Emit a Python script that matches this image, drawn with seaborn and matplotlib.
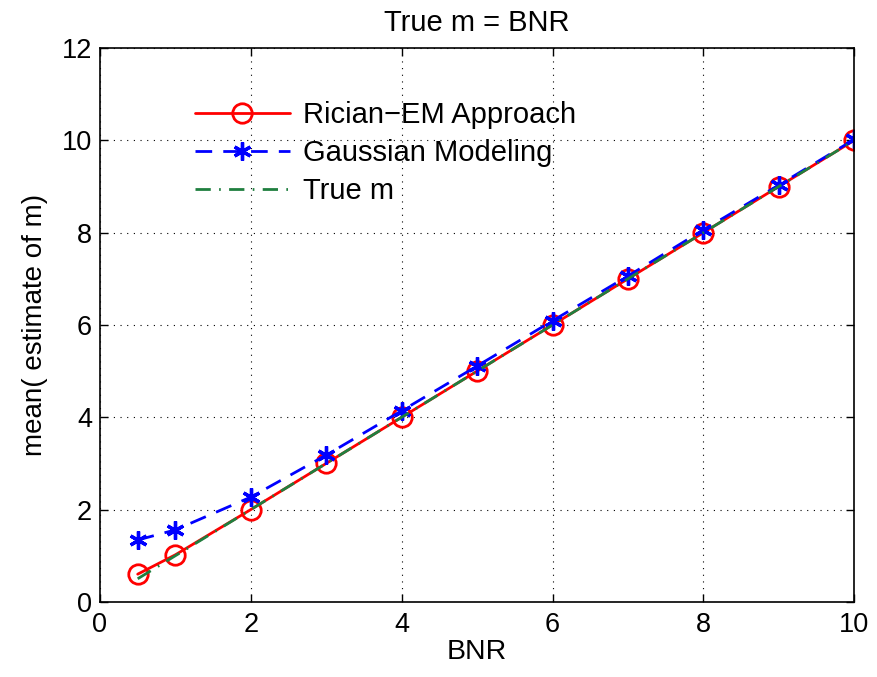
import numpy as np
import pandas as pd
import matplotlib
matplotlib.use("Agg")
import matplotlib.pyplot as plt
import seaborn as sns

bnr = [0.5, 1, 2, 3, 4, 5, 6, 7, 8, 9, 10]
rician = [0.6, 1.02, 2.0, 3.0, 4.0, 5.0, 6.0, 7.0, 8.0, 9.0, 10.0]
gaussian = [1.34, 1.56, 2.27, 3.18, 4.14, 5.11, 6.09, 7.06, 8.06, 9.03, 10.02]
true_m = [0.5, 1, 2, 3, 4, 5, 6, 7, 8, 9, 10]

sns.set_theme(style="white")
plt.rcParams['font.family'] = ['Liberation Sans', 'DejaVu Sans']
plt.rcParams['text.color'] = 'black'
plt.rcParams['axes.labelcolor'] = 'black'

fig = plt.figure(figsize=(8.77, 6.77), dpi=100)
ax = fig.add_axes([0.114, 0.111, 0.860, 0.818])

df = pd.DataFrame({"BNR": bnr, "rician": rician, "gaussian": gaussian, "true": true_m})

sns.lineplot(data=df, x="BNR", y="rician", ax=ax, color="red", lw=2,
             marker="o", markersize=14, markerfacecolor="none", markeredgecolor="red",
             markeredgewidth=2, label="Rician\u2212EM Approach")
sns.lineplot(data=df, x="BNR", y="gaussian", ax=ax, color="blue", lw=2,
             marker=(6, 2, 0), markersize=13, markeredgecolor="blue", markeredgewidth=2.4,
             label="Gaussian Modeling")
ax.lines[-1].set_dashes([6, 4])
sns.lineplot(data=df, x="BNR", y="true", ax=ax, color="#1f7f3f", lw=2,
             label="True m")
ax.lines[-1].set_dashes([5.5, 3, 0.6, 3])

ax.set_xlim(0, 10)
ax.set_ylim(0, 12)
ax.set_xticks(range(0, 11, 2))
ax.set_yticks(range(0, 13, 2))
ax.grid(True, color="black", linestyle=(0, (1, 5)), linewidth=0.8)
for s in ax.spines.values():
    s.set_color("black")
    s.set_linewidth(1.2)
ax.tick_params(direction="in", length=6, width=1, labelsize=19.5, colors="black",
               top=True, right=True, bottom=True, left=True)
ax.tick_params(axis="x", pad=7)
ax.tick_params(axis="y", pad=5.8)
ax.set_xlabel("BNR", fontsize=20.5, labelpad=1)
ax.set_ylabel("mean( estimate of m)", fontsize=20, labelpad=10)
ax.set_title("True m = BNR", fontsize=21, pad=12)

leg = ax.legend(loc="upper left", bbox_to_anchor=(0.126, 0.904), frameon=False,
                fontsize=21, handlelength=3.25, labelspacing=0.34, handletextpad=0.45,
                borderpad=0, borderaxespad=0)

fig.savefig("out.png", dpi=100)
